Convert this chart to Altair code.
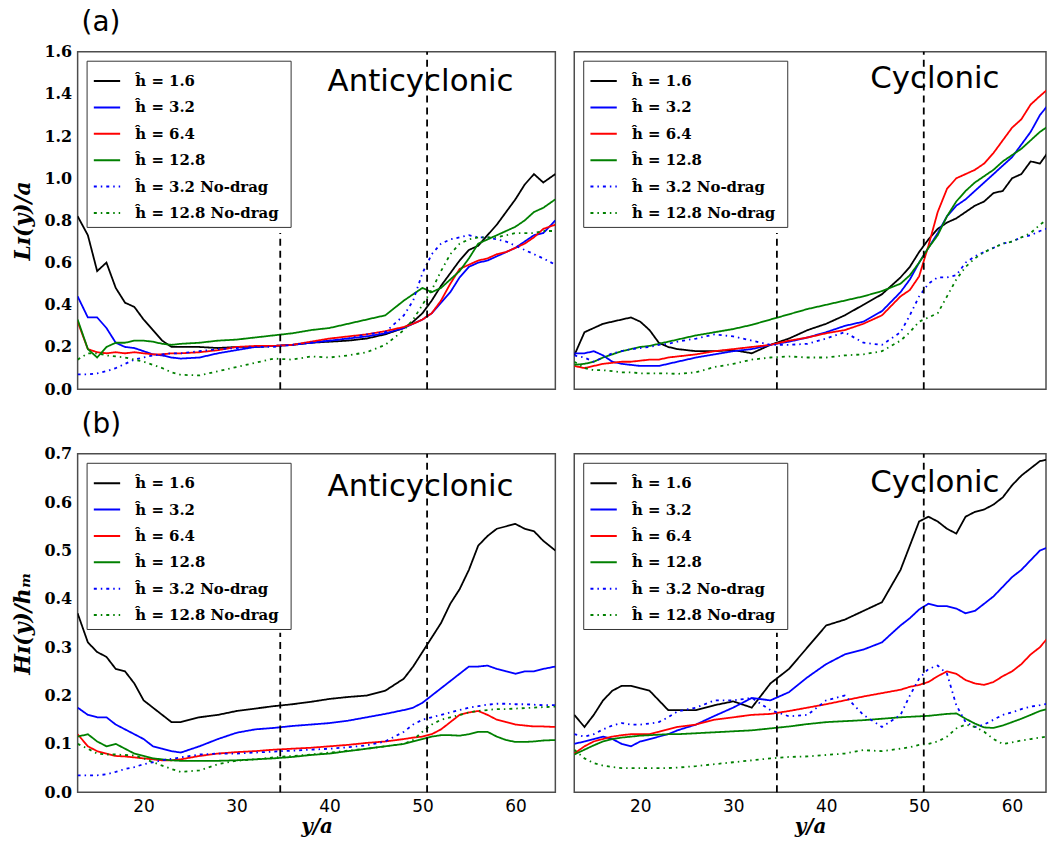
import altair as alt
import pandas as pd

# ---------------- data ----------------
X = [12.9, 14, 15, 16, 17, 18, 19, 20, 21, 22, 23, 24,
     26, 28, 30, 32, 34, 36, 38, 40, 42, 44, 46, 48,
     49, 50, 51, 52, 53, 54, 55, 56, 57, 58, 59, 60, 61, 62, 63,
     64.3]

SERIES = ["ĥ = 1.6", "ĥ = 3.2", "ĥ = 6.4", "ĥ = 12.8",
          "ĥ = 3.2  No-drag", "ĥ = 12.8  No-drag"]
COLORS = ["#000000", "#0000ff", "#ff0000", "#008000", "#0000ff", "#008000"]
DASHES = [[1, 0], [1, 0], [1, 0], [1, 0], [3, 4, 1.5, 4], [3, 4, 1.5, 4]]

# (a) Anticyclonic, L_I(y)/a
L_A_16 = [0.82, 0.73, 0.56, 0.60, 0.48, 0.41, 0.39, 0.33, 0.28, 0.23, 0.20, 0.20,
          0.20, 0.195, 0.20, 0.20, 0.205, 0.21, 0.22, 0.225, 0.23, 0.24, 0.26, 0.29,
          0.32, 0.36, 0.42, 0.49, 0.55, 0.61, 0.66, 0.68, 0.73, 0.78, 0.84, 0.90, 0.97, 1.02, 0.98,
          1.02]
L_A_32 = [0.44, 0.34, 0.34, 0.29, 0.22, 0.20, 0.195, 0.18, 0.165, 0.16, 0.15, 0.145,
          0.15, 0.17, 0.185, 0.20, 0.205, 0.21, 0.22, 0.23, 0.24, 0.25, 0.265, 0.29,
          0.31, 0.33, 0.36, 0.41, 0.46, 0.53, 0.58, 0.60, 0.61, 0.63, 0.65, 0.67, 0.70, 0.73, 0.74,
          0.80]
L_A_64 = [0.32, 0.19, 0.175, 0.17, 0.175, 0.17, 0.175, 0.17, 0.165, 0.165, 0.17, 0.17,
          0.175, 0.185, 0.20, 0.205, 0.205, 0.21, 0.225, 0.24, 0.25, 0.26, 0.275, 0.295,
          0.31, 0.33, 0.36, 0.42, 0.50, 0.57, 0.59, 0.61, 0.62, 0.64, 0.65, 0.67, 0.69, 0.72, 0.76,
          0.78]
L_A_128 = [0.33, 0.19, 0.15, 0.20, 0.22, 0.22, 0.23, 0.23, 0.225, 0.215, 0.21, 0.215,
           0.22, 0.23, 0.235, 0.245, 0.255, 0.265, 0.28, 0.29, 0.31, 0.33, 0.35, 0.42,
           0.45, 0.48, 0.46, 0.48, 0.52, 0.56, 0.62, 0.69, 0.71, 0.73, 0.75, 0.77, 0.80, 0.84, 0.86,
           0.90]
L_A_32ND = [0.07, 0.07, 0.075, 0.085, 0.10, 0.12, 0.14, 0.15, 0.16, 0.165, 0.17, 0.17,
            0.18, 0.19, 0.195, 0.20, 0.20, 0.21, 0.22, 0.23, 0.24, 0.26, 0.27, 0.35,
            0.42, 0.55, 0.64, 0.69, 0.71, 0.72, 0.73, 0.72, 0.72, 0.71, 0.70, 0.68, 0.66, 0.64, 0.62,
            0.59]
L_A_128ND = [0.14, 0.17, 0.17, 0.16, 0.155, 0.15, 0.14, 0.13, 0.115, 0.10, 0.08, 0.068,
             0.065, 0.085, 0.105, 0.125, 0.145, 0.14, 0.155, 0.15, 0.16, 0.175, 0.21, 0.28,
             0.33, 0.40, 0.47, 0.56, 0.64, 0.69, 0.71, 0.72, 0.72, 0.72, 0.73, 0.74, 0.74, 0.74, 0.75,
             0.75]

# (a) Cyclonic, L_I(y)/a
L_C_16 = [0.16, 0.27, 0.29, 0.31, 0.32, 0.33, 0.34, 0.32, 0.28, 0.22, 0.20, 0.19,
          0.18, 0.18, 0.185, 0.17, 0.21, 0.24, 0.28, 0.31, 0.35, 0.40, 0.45, 0.53,
          0.58, 0.65, 0.71, 0.76, 0.79, 0.81, 0.84, 0.87, 0.89, 0.93, 0.94, 1.00, 1.02, 1.08, 1.07,
          1.15]
L_C_32 = [0.17, 0.17, 0.18, 0.16, 0.13, 0.12, 0.115, 0.11, 0.11, 0.11, 0.12, 0.13,
          0.15, 0.165, 0.18, 0.19, 0.21, 0.225, 0.245, 0.27, 0.30, 0.32, 0.37, 0.46,
          0.52, 0.60, 0.67, 0.74, 0.82, 0.87, 0.90, 0.94, 0.98, 1.02, 1.06, 1.10, 1.16, 1.22, 1.30,
          1.37]
L_C_64 = [0.11, 0.10, 0.11, 0.12, 0.125, 0.13, 0.13, 0.135, 0.14, 0.14, 0.15, 0.155,
          0.165, 0.18, 0.19, 0.20, 0.21, 0.23, 0.245, 0.265, 0.28, 0.31, 0.35, 0.44,
          0.47, 0.535, 0.68, 0.84, 0.95, 1.00, 1.02, 1.04, 1.07, 1.12, 1.18, 1.24, 1.28, 1.35, 1.39,
          1.44]
L_C_128 = [0.115, 0.12, 0.13, 0.15, 0.165, 0.18, 0.19, 0.20, 0.205, 0.215, 0.225, 0.235,
           0.255, 0.27, 0.285, 0.305, 0.33, 0.355, 0.38, 0.40, 0.42, 0.44, 0.465, 0.50,
           0.54, 0.60, 0.67, 0.73, 0.82, 0.89, 0.94, 0.98, 1.01, 1.04, 1.08, 1.11, 1.14, 1.18, 1.22,
           1.26]
L_C_32ND = [0.16, 0.15, 0.13, 0.15, 0.17, 0.18, 0.19, 0.195, 0.20, 0.21, 0.215, 0.225,
            0.24, 0.26, 0.25, 0.23, 0.21, 0.21, 0.215, 0.24, 0.27, 0.22, 0.21, 0.27,
            0.35, 0.44, 0.50, 0.53, 0.53, 0.54, 0.60, 0.63, 0.65, 0.67, 0.69, 0.70, 0.72, 0.73, 0.75,
            0.77]
L_C_128ND = [0.13, 0.10, 0.09, 0.09, 0.085, 0.08, 0.08, 0.075, 0.075, 0.075, 0.075, 0.072,
             0.08, 0.105, 0.12, 0.14, 0.15, 0.155, 0.15, 0.15, 0.16, 0.165, 0.18, 0.23,
             0.27, 0.32, 0.34, 0.36, 0.44, 0.52, 0.58, 0.62, 0.65, 0.67, 0.69, 0.70, 0.72, 0.74, 0.78,
             0.82]

# (b) Anticyclonic, H_I(y)/h_m
H_A_16 = [0.37, 0.31, 0.29, 0.28, 0.255, 0.25, 0.225, 0.19, 0.175, 0.16, 0.145, 0.145,
          0.155, 0.16, 0.168, 0.173, 0.178, 0.182, 0.187, 0.193, 0.197, 0.20, 0.21, 0.235,
          0.26, 0.29, 0.32, 0.35, 0.39, 0.42, 0.46, 0.51, 0.53, 0.545, 0.55, 0.555, 0.545, 0.54, 0.52,
          0.50]
H_A_32 = [0.175, 0.16, 0.155, 0.155, 0.14, 0.13, 0.12, 0.11, 0.095, 0.09, 0.085, 0.082,
          0.095, 0.11, 0.123, 0.13, 0.133, 0.137, 0.14, 0.143, 0.148, 0.155, 0.162, 0.17,
          0.175, 0.185, 0.20, 0.215, 0.23, 0.245, 0.26, 0.26, 0.262, 0.255, 0.25, 0.245, 0.25, 0.25, 0.255,
          0.26]
H_A_64 = [0.12, 0.095, 0.085, 0.08, 0.075, 0.074, 0.072, 0.07, 0.068, 0.066, 0.066, 0.068,
          0.075, 0.08, 0.083, 0.085, 0.088, 0.09, 0.092, 0.095, 0.098, 0.102, 0.105, 0.11,
          0.113, 0.115, 0.12, 0.13, 0.145, 0.16, 0.165, 0.168, 0.16, 0.15, 0.145, 0.14, 0.138, 0.136, 0.136,
          0.135]
H_A_128 = [0.115, 0.12, 0.105, 0.095, 0.10, 0.09, 0.08, 0.075, 0.07, 0.068, 0.066, 0.065,
           0.065, 0.065, 0.066, 0.068, 0.07, 0.073, 0.077, 0.08, 0.085, 0.09, 0.095, 0.10,
           0.105, 0.11, 0.115, 0.118, 0.118, 0.117, 0.12, 0.125, 0.125, 0.115, 0.108, 0.104, 0.104, 0.105, 0.107,
           0.108]
H_A_32ND = [0.035, 0.035, 0.035, 0.037, 0.042, 0.048, 0.052, 0.058, 0.062, 0.066, 0.069, 0.072,
            0.078, 0.08, 0.08, 0.082, 0.084, 0.086, 0.088, 0.09, 0.093, 0.097, 0.105, 0.125,
            0.14, 0.15, 0.155, 0.16, 0.165, 0.17, 0.175, 0.178, 0.181, 0.183, 0.183, 0.182, 0.182, 0.181, 0.18,
            0.18]
H_A_128ND = [0.10, 0.09, 0.08, 0.078, 0.078, 0.077, 0.076, 0.07, 0.062, 0.055, 0.048, 0.042,
             0.045, 0.058, 0.065, 0.068, 0.072, 0.075, 0.078, 0.082, 0.086, 0.09, 0.095, 0.10,
             0.108, 0.125, 0.14, 0.15, 0.155, 0.16, 0.165, 0.168, 0.17, 0.172, 0.172, 0.173, 0.174, 0.175, 0.176,
             0.177]

# (b) Cyclonic, H_I(y)/h_m
H_C_16 = [0.16, 0.135, 0.16, 0.19, 0.21, 0.22, 0.22, 0.215, 0.21, 0.19, 0.17, 0.17,
          0.17, 0.18, 0.188, 0.175, 0.225, 0.255, 0.30, 0.345, 0.357, 0.375, 0.393, 0.46,
          0.51, 0.56, 0.57, 0.56, 0.545, 0.535, 0.57, 0.58, 0.585, 0.595, 0.61, 0.635, 0.655, 0.67, 0.685,
          0.69]
H_C_32 = [0.10, 0.105, 0.11, 0.115, 0.11, 0.10, 0.095, 0.105, 0.11, 0.115, 0.12, 0.128,
          0.14, 0.158, 0.175, 0.195, 0.19, 0.207, 0.238, 0.265, 0.285, 0.295, 0.31, 0.345,
          0.36, 0.378, 0.39, 0.385, 0.385, 0.38, 0.37, 0.375, 0.39, 0.405, 0.425, 0.445, 0.46, 0.48, 0.50,
          0.51]
H_C_64 = [0.08, 0.095, 0.105, 0.11, 0.115, 0.118, 0.12, 0.12, 0.12, 0.125, 0.13, 0.135,
          0.14, 0.15, 0.155, 0.16, 0.162, 0.168, 0.175, 0.182, 0.19, 0.198, 0.205, 0.212,
          0.218, 0.222, 0.228, 0.24, 0.25, 0.245, 0.232, 0.225, 0.222, 0.228, 0.24, 0.25, 0.265, 0.285, 0.30,
          0.33]
H_C_128 = [0.078, 0.088, 0.097, 0.105, 0.11, 0.113, 0.115, 0.117, 0.118, 0.119, 0.12, 0.12,
           0.122, 0.124, 0.126, 0.128, 0.132, 0.136, 0.141, 0.145, 0.147, 0.149, 0.152, 0.155,
           0.156, 0.157, 0.158, 0.16, 0.162, 0.163, 0.152, 0.142, 0.134, 0.133, 0.138, 0.145, 0.152, 0.16, 0.168,
           0.175]
H_C_32ND = [0.12, 0.115, 0.12, 0.13, 0.138, 0.143, 0.14, 0.14, 0.142, 0.145, 0.155, 0.167,
            0.175, 0.19, 0.19, 0.195, 0.17, 0.157, 0.16, 0.19, 0.20, 0.16, 0.135, 0.16,
            0.20, 0.235, 0.255, 0.262, 0.245, 0.18, 0.145, 0.135, 0.14, 0.15, 0.16, 0.165, 0.172, 0.177, 0.18,
            0.185]
H_C_128ND = [0.088, 0.07, 0.06, 0.055, 0.052, 0.05, 0.05, 0.05, 0.05, 0.05, 0.05, 0.051,
             0.054, 0.058, 0.062, 0.066, 0.07, 0.073, 0.074, 0.077, 0.08, 0.087, 0.085, 0.09,
             0.093, 0.098, 0.10, 0.105, 0.115, 0.132, 0.14, 0.135, 0.125, 0.11, 0.10, 0.103, 0.107, 0.11, 0.113,
             0.117]

X_TICKS = [20, 30, 40, 50, 60]
L_TICKS = [0.0, 0.2, 0.4, 0.6, 0.8, 1.0, 1.2, 1.4, 1.6]
H_TICKS = [0.0, 0.1, 0.2, 0.3, 0.4, 0.5, 0.6, 0.7]

X_DOM_LEFT = [12.9, 64.3]
X_DOM_RIGHT = [12.9, 63.65]
L_DOM = [0.0, 1.6]
H_DOM = [0.0, 0.7]

RULE_X = [34.7, 50.5]
RULE_TOP_L = [0.74, 1.6]
RULE_TOP_H = [0.33, 0.7]

ANN_TEXT = ["Anticyclonic", "Cyclonic"]
ANN_X = [49.8, 51.7]
ANN_Y_L = [1.415, 1.43]
ANN_Y_H = [0.612, 0.622]


def build_df(values):
    rows = []
    for name, vals in zip(SERIES, values):
        for x, v in zip(X, vals):
            rows.append({"x": x, "v": v, "series": name})
    return pd.DataFrame(rows)


def make_legend():
    return alt.Legend(
        title=None, orient="top-left", offset=9, padding=6, rowPadding=3.5,
        symbolType="stroke", symbolSize=700, symbolStrokeWidth=2,
        labelFont="DejaVu Serif", labelFontWeight="bold", labelFontSize=15,
        labelOffset=14, labelLimit=400, strokeColor="#333333",
        fillColor="white", cornerRadius=0,
    )


def panel(values, xdom, ydom, yticks, rule_top, ann_i, ann_y, width, height,
          show_x, show_y, ytitle, label):
    df = build_df(values)
    xs = alt.Scale(domain=xdom, nice=False, zero=False)
    ys = alt.Scale(domain=ydom, nice=False, zero=False)
    if show_x:
        xenc = alt.X("x:Q", scale=xs, axis=alt.Axis(values=X_TICKS, title="y/a", format="d"))
    else:
        xenc = alt.X("x:Q", scale=xs, axis=None)
    if show_y:
        yenc = alt.Y("v:Q", scale=ys, axis=alt.Axis(values=yticks, title=ytitle, format=".1f"))
    else:
        yenc = alt.Y("v:Q", scale=ys, axis=None)

    lines = alt.Chart(df).mark_line(strokeWidth=1.8, clip=True).encode(
        x=xenc,
        y=yenc,
        color=alt.Color("series:N", scale=alt.Scale(domain=SERIES, range=COLORS),
                        legend=make_legend()),
        strokeDash=alt.StrokeDash("series:N",
                                  scale=alt.Scale(domain=SERIES, range=DASHES),
                                  legend=make_legend()),
    )
    rdf = pd.DataFrame({"x": RULE_X, "y0": [0.0, 0.0], "y1": rule_top})
    rules = alt.Chart(rdf).mark_rule(strokeDash=[7, 5], strokeWidth=1.8,
                                     color="black").encode(
        x=alt.X("x:Q"), y=alt.Y("y0:Q"), y2="y1:Q")
    adf = pd.DataFrame({"x": [ANN_X[ann_i]], "y": [ann_y[ann_i]],
                        "t": [ANN_TEXT[ann_i]]})
    text = alt.Chart(adf).mark_text(font="DejaVu Sans", fontSize=31,
                                    align="center", baseline="alphabetic",
                                    color="black").encode(
        x=alt.X("x:Q"), y=alt.Y("y:Q"), text="t:N")
    return alt.layer(lines, rules, text).properties(
        width=width, height=height,
        title=alt.Title(label, anchor="start", frame="group", dx=4, offset=7,
                        font="DejaVu Sans", fontSize=28, fontWeight="normal",
                        color="black"),
    )


tl = panel([L_A_16, L_A_32, L_A_64, L_A_128, L_A_32ND, L_A_128ND],
           X_DOM_LEFT, L_DOM, L_TICKS, RULE_TOP_L, 0, ANN_Y_L, 480, 339,
           False, True, "Lɪ(y)/a", "(a)")
tr = panel([L_C_16, L_C_32, L_C_64, L_C_128, L_C_32ND, L_C_128ND],
           X_DOM_RIGHT, L_DOM, L_TICKS, RULE_TOP_L, 1, ANN_Y_L, 474, 339,
           False, False, "", " ")
bl = panel([H_A_16, H_A_32, H_A_64, H_A_128, H_A_32ND, H_A_128ND],
           X_DOM_LEFT, H_DOM, H_TICKS, RULE_TOP_H, 0, ANN_Y_H, 480, 340,
           True, True, "Hɪ(y)/hₘ", "(b)")
br = panel([H_C_16, H_C_32, H_C_64, H_C_128, H_C_32ND, H_C_128ND],
           X_DOM_RIGHT, H_DOM, H_TICKS, RULE_TOP_H, 1, ANN_Y_H, 474, 340,
           True, False, "", " ")

chart = alt.concat(
    tl, tr, bl, br, columns=2, spacing={"row": 12, "column": 17}, align="each"
).resolve_scale(
    x="independent", y="independent", color="independent", strokeDash="independent"
).properties(
    padding={"left": 10, "top": 6, "right": 0, "bottom": 0},
    background="white",
).configure_view(
    stroke="#4d4d4d", strokeWidth=1.5
).configure_axis(
    grid=False, domain=False, ticks=False, labelPadding=6, labelColor="black",
    titleColor="black",
).configure_axisY(
    labelFont="DejaVu Serif", labelFontWeight="bold", labelFontSize=16,
    titleFont="DejaVu Serif", titleFontStyle="italic", titleFontWeight="bold",
    titleFontSize=22, titlePadding=10,
).configure_axisX(
    labelFont="DejaVu Sans", labelFontSize=17, labelPadding=6,
    titleFont="DejaVu Serif", titleFontStyle="italic", titleFontWeight="bold",
    titleFontSize=20, titlePadding=2,
)

chart.save("out.html", embed_options={"renderer": "svg", "actions": False})
